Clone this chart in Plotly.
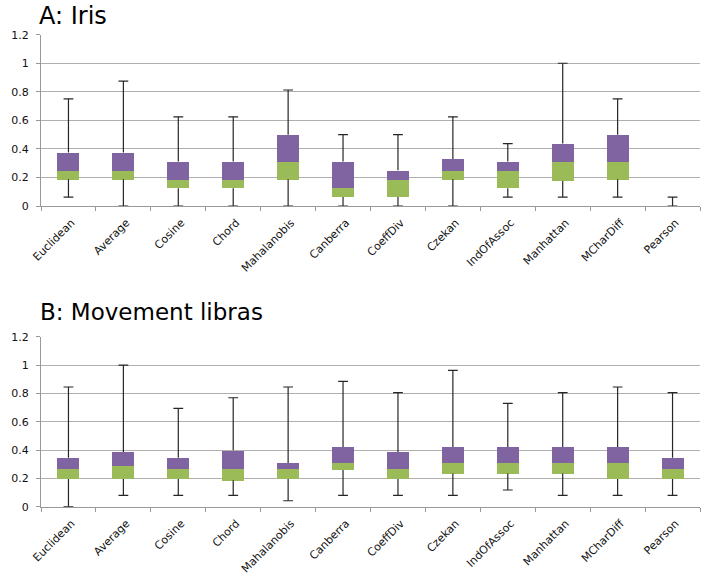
import plotly.graph_objects as go

categories = ["Euclidean", "Average", "Cosine", "Chord", "Mahalanobis", "Canberra",
              "CoeffDiv", "Czekan", "IndOfAssoc", "Manhattan", "MCharDiff", "Pearson"]

# Panel A: Iris
a_min = [0.0625, 0.0, 0.0, 0.0, 0.0, 0.0, 0.0, 0.0, 0.0625, 0.0625, 0.0625, 0.0]
a_q1 = [0.1875, 0.1875, 0.125, 0.125, 0.1875, 0.0625, 0.0625, 0.1875, 0.125, 0.175, 0.1875, 0.0]
a_med = [0.25, 0.25, 0.1875, 0.1875, 0.3125, 0.125, 0.1875, 0.25, 0.25, 0.3125, 0.3125, 0.0]
a_q3 = [0.375, 0.375, 0.3125, 0.3125, 0.5, 0.3125, 0.25, 0.33, 0.3125, 0.4375, 0.5, 0.0]
a_max = [0.75, 0.875, 0.625, 0.625, 0.8125, 0.5, 0.5, 0.625, 0.4375, 1.0, 0.75, 0.0625]

# Panel B: Movement libras
b_min = [0.0, 0.08, 0.08, 0.08, 0.042, 0.08, 0.08, 0.08, 0.118, 0.08, 0.08, 0.08]
b_q1 = [0.195, 0.195, 0.195, 0.186, 0.195, 0.259, 0.195, 0.235, 0.235, 0.235, 0.195, 0.195]
b_med = [0.266, 0.287, 0.266, 0.266, 0.266, 0.308, 0.266, 0.308, 0.308, 0.308, 0.308, 0.266]
b_q3 = [0.346, 0.386, 0.346, 0.398, 0.308, 0.421, 0.386, 0.421, 0.421, 0.421, 0.421, 0.346]
b_max = [0.845, 1.0, 0.694, 0.769, 0.845, 0.885, 0.805, 0.962, 0.729, 0.805, 0.845, 0.805]

y_ticks = [0, 0.2, 0.4, 0.6, 0.8, 1.0, 1.2]
y_tick_text = ["0", "0.2", "0.4", "0.6", "0.8", "1", "1.2"]

GREEN = "#9BBB59"
PURPLE = "#8064A2"
WHISK = "#262626"
FONT = "DejaVu Sans"

fig = go.Figure()


def add_panel(mn, q1, md, q3, mx, xa, ya):
    # whiskers (outside the box)
    wx, wy = [], []
    for c, lo, b1, b3, hi in zip(categories, mn, q1, q3, mx):
        wx += [c, c, None, c, c, None]
        wy += [lo, b1, None, b3, hi, None]
    fig.add_trace(go.Scatter(x=wx, y=wy, mode="lines", line=dict(color=WHISK, width=1.2),
                             xaxis=xa, yaxis=ya, hoverinfo="skip", showlegend=False))
    # caps
    fig.add_trace(go.Scatter(x=categories + categories, y=list(mn) + list(mx), mode="markers",
                             marker=dict(symbol="line-ew", size=7,
                                         line=dict(color=WHISK, width=1.2)),
                             xaxis=xa, yaxis=ya, hoverinfo="skip", showlegend=False))
    # lower box (Q1 -> median)
    fig.add_trace(go.Bar(x=categories, y=[m - a for m, a in zip(md, q1)], base=q1,
                         marker=dict(color=GREEN, line=dict(width=0)), width=0.4,
                         xaxis=xa, yaxis=ya, showlegend=False))
    # upper box (median -> Q3)
    fig.add_trace(go.Bar(x=categories, y=[b - m for b, m in zip(q3, md)], base=md,
                         marker=dict(color=PURPLE, line=dict(width=0)), width=0.4,
                         xaxis=xa, yaxis=ya, showlegend=False))


add_panel(a_min, a_q1, a_med, a_q3, a_max, "x", "y")
add_panel(b_min, b_q1, b_med, b_q3, b_max, "x2", "y2")

xdom = [41 / 708, 700 / 708]
xcommon = dict(type="category", categoryorder="array", categoryarray=categories,
               tickson="boundaries", ticks="outside", ticklen=4, tickcolor="#999999",
               showline=True, linecolor="#999999", linewidth=1, showgrid=False,
               tickangle=-45, tickfont=dict(family=FONT, size=11, color="#111111"),
               ticklabelstandoff=5, ticklabelshift=3,
               range=[-0.5, 11.5], domain=xdom, automargin=False)
ycommon = dict(range=[0, 1.2], tickvals=y_ticks, ticktext=y_tick_text,
               showgrid=True, gridcolor="#AFAFAF", gridwidth=1,
               showline=True, linecolor="#999999", linewidth=1,
               ticks="outside", ticklen=4, tickcolor="#999999", ticklabelstandoff=5,
               tickfont=dict(family=FONT, size=11, color="#111111"), zeroline=False,
               automargin=False)

fig.update_layout(
    template="none",
    width=708, height=577,
    margin=dict(l=0, r=0, t=0, b=0, autoexpand=False),
    paper_bgcolor="white", plot_bgcolor="white",
    barmode="overlay", bargap=0,
    xaxis=dict(**xcommon, anchor="y"),
    yaxis=dict(**ycommon, domain=[1 - 206 / 577, 1 - 34.7 / 577], anchor="x"),
    xaxis2=dict(**xcommon, anchor="y2"),
    yaxis2=dict(**ycommon, domain=[1 - 506.7 / 577, 1 - 336.7 / 577], anchor="x2"),
    annotations=[
        dict(text="A: Iris", x=37 / 708, y=1 - 16 / 577, xref="paper", yref="paper",
             xanchor="left", yanchor="middle", showarrow=False,
             font=dict(family=FONT, size=24, color="#000000")),
        dict(text="B: Movement libras", x=38 / 708, y=1 - 312 / 577, xref="paper", yref="paper",
             xanchor="left", yanchor="middle", showarrow=False,
             font=dict(family=FONT, size=23, color="#000000")),
    ],
)

fig.write_html("out.html", config={"displayModeBar": False},
               post_script="document.body.style.margin='0';")
